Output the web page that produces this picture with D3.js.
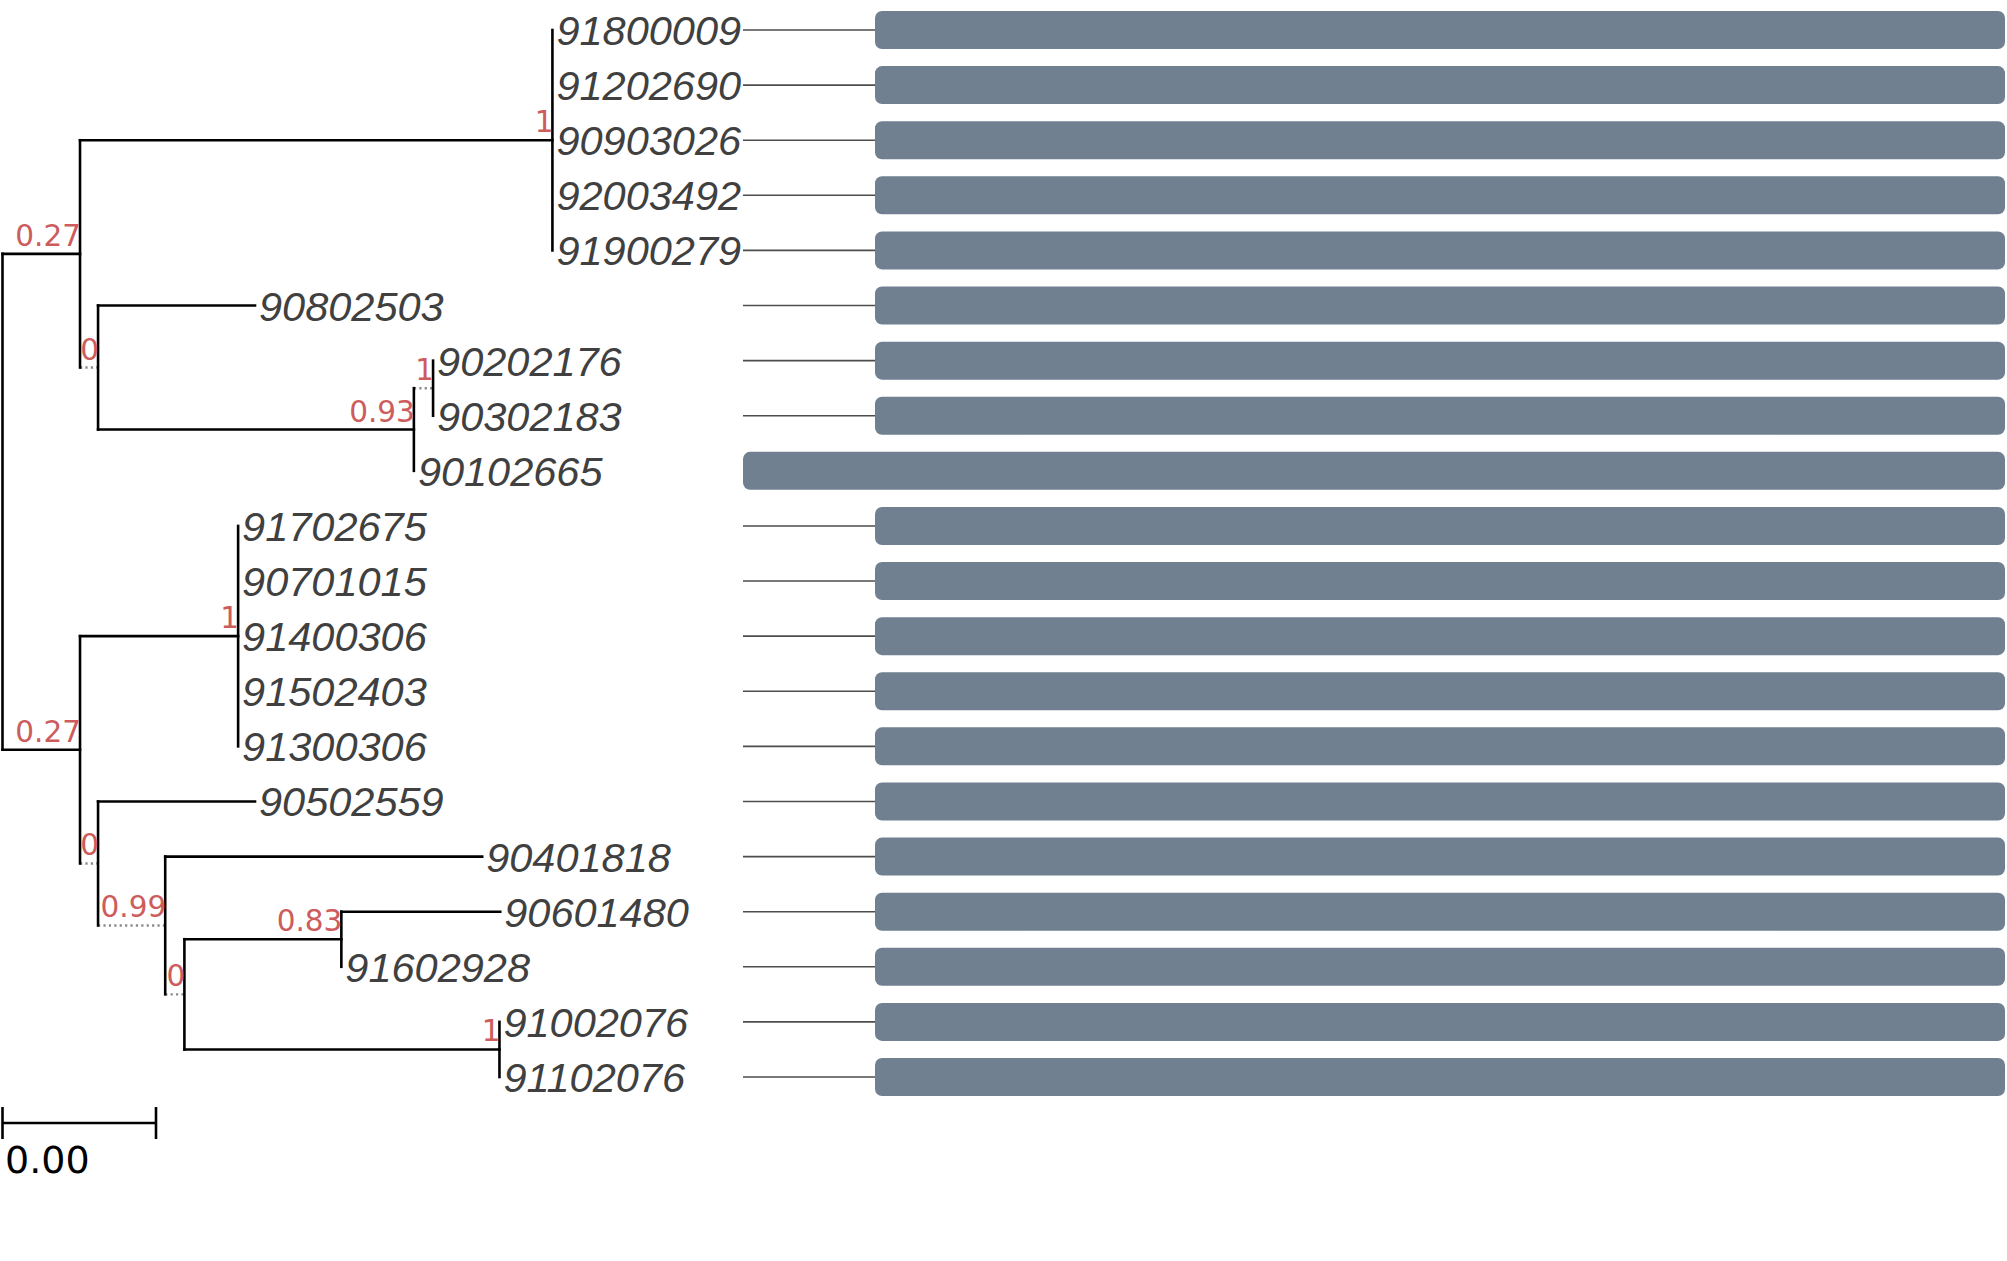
<!DOCTYPE html>
<html>
<head>
<meta charset="utf-8">
<script src="https://cdn.jsdelivr.net/npm/d3@7"></script>
<style>
  html, body { margin: 0; padding: 0; background: #fff; }
  svg { display: block; }
</style>
</head>
<body>
<svg id="chart" width="2007" height="1261"></svg>
<script>
// ---- Tree data ----
const nodeIds = ["root","A","C1","91800009","91202690","90903026","92003492","91900279",
  "B","90802503","C","D","90202176","90302183","90102665",
  "A2","E","91702675","90701015","91400306","91502403","91300306",
  "B2","90502559","F","90401818","G","H","90601480","91602928","I","91002076","91102076"];
const parentIds = ["","root","A","C1","C1","C1","C1","C1",
  "A","B","B","C","D","D","C",
  "root","A2","E","E","E","E","E",
  "A2","B2","B2","F","F","G","H","H","G","I","I"];
const branchLengths = [0,0.00202,0.01231,0,0,0,0,0,
  0.00047,0.00409,0.00823,0.00050,0,0,0,
  0.00202,0.00412,0,0,0,0,0,
  0.00047,0.00409,0.00175,0.00826,0.00050,0.00409,0.00414,0,0.00821,0,0];
const supportLabels = ["","0.27","1","","","","","",
  "0","","0.93","1","","","",
  "0.27","1","","","","","",
  "0","","0.99","","0","0.83","","","1","",""];
const dottedBranch = [0,0,0,0,0,0,0,0,
  1,0,0,1,0,0,0,
  0,0,0,0,0,0,0,
  1,0,1,0,1,0,0,0,0,0,0];

// leaf order top to bottom
const leafOrder = ["91800009","91202690","90903026","92003492","91900279","90802503",
  "90202176","90302183","90102665","91702675","90701015","91400306","91502403","91300306",
  "90502559","90401818","90601480","91602928","91002076","91102076"];

// ---- Track (bar) data ----
const barStart = [132,132,132,132,132,132,132,132,0,132,132,132,132,132,132,132,132,132,132,132];
const barEnd   = [1262,1262,1262,1262,1262,1262,1262,1262,1262,1262,1262,1262,1262,1262,1262,1262,1262,1262,1262,1262];
const trackDomain = [0, 1262];

// scale bar
const scaleBarValue = 0.004;

// ---- Build ----
const svg = d3.select("#chart");
const table = nodeIds.map((id,i)=>({id, parent: parentIds[i]||null, len: branchLengths[i],
  support: supportLabels[i], dotted: dottedBranch[i]}));
const root = d3.stratify().id(d=>d.id).parentId(d=>d.parent)(table);

root.each(n=>{ n.dist = n.parent ? n.parent.dist + n.data.len : 0; });
const leafIndex = new Map(leafOrder.map((d,i)=>[d,i]));
function minLeaf(n){ return n.children ? d3.min(n.children, minLeaf) : leafIndex.get(n.id); }
root.sort((a,b)=>minLeaf(a)-minLeaf(b));

const x = d3.scaleLinear().domain([0, 0.004]).range([2.5, 156]);
const y = d3.scaleLinear().domain([0, leafOrder.length-1]).range([30, 1077]);
const tx = d3.scaleLinear().domain(trackDomain).range([743, 2005]);

root.eachAfter(n=>{
  if (!n.children) n.yy = y(leafIndex.get(n.id));
  else n.yy = d3.mean(n.children, c=>c.yy);
});

const g = svg.append("g");

// tracks
const rows = leafOrder.map((name,i)=>({name, i, s: barStart[i], e: barEnd[i]}));
g.selectAll("line.lead").data(rows).join("line")
  .attr("x1", tx(trackDomain[0])).attr("x2", d=>tx(d.s))
  .attr("y1", d=>y(d.i)).attr("y2", d=>y(d.i))
  .attr("stroke", "#4d4d4d").attr("stroke-width", 1.6);
g.selectAll("rect.bar").data(rows).join("rect")
  .attr("x", d=>tx(d.s)).attr("width", d=>tx(d.e)-tx(d.s))
  .attr("y", d=>y(d.i)-19).attr("height", 38)
  .attr("rx", 7).attr("ry", 7)
  .attr("fill", "#708090");

// horizontal branches
const nonRoot = root.descendants().filter(n=>n.parent && n.data.len>0);
g.selectAll("line.hb").data(nonRoot).join("line")
  .attr("x1", n=>x(n.parent.dist)).attr("x2", n=>x(n.dist))
  .attr("y1", n=>n.yy).attr("y2", n=>n.yy)
  .attr("stroke", n=>n.data.dotted ? "#8a8a8a" : "#000")
  .attr("stroke-width", n=>n.data.dotted ? 2.4 : 2.6)
  .attr("stroke-dasharray", n=>n.data.dotted ? "2.2,3.2" : null)
  .attr("stroke-linecap", n=>n.data.dotted ? "butt" : "square");

// vertical branches
const internal = root.descendants().filter(n=>n.children);
g.selectAll("line.vb").data(internal).join("line")
  .attr("x1", n=>x(n.dist)).attr("x2", n=>x(n.dist))
  .attr("y1", n=>d3.min(n.children,c=>c.yy)).attr("y2", n=>d3.max(n.children,c=>c.yy))
  .attr("stroke", "#000").attr("stroke-width", 2.6).attr("stroke-linecap", "square");

// tip labels
const leaves = root.leaves();
g.selectAll("text.tip").data(leaves).join("text")
  .attr("x", n=>x(n.dist)+4).attr("y", n=>n.yy+15)
  .attr("font-family", "'Liberation Sans', Arial, sans-serif")
  .attr("font-style", "italic").attr("font-size", 41.5)
  .attr("fill", "#404040")
  .text(n=>n.id);

// support labels
g.selectAll("text.sup").data(internal.filter(n=>n.data.support!=="")).join("text")
  .attr("x", n=>x(n.dist)+1).attr("y", n=>n.yy-8)
  .attr("text-anchor", "end")
  .attr("font-family", "'DejaVu Sans', sans-serif")
  .attr("font-size", 29.5)
  .attr("fill", "#cd5c5c")
  .text(n=>n.data.support);

// scale bar
const sbY = 1123;
const sb = g.append("g");
sb.append("line").attr("x1", x(0)).attr("x2", x(scaleBarValue)).attr("y1", sbY).attr("y2", sbY)
  .attr("stroke", "#000").attr("stroke-width", 2.6);
[0, scaleBarValue].forEach(v=>{
  sb.append("line").attr("x1", x(v)).attr("x2", x(v)).attr("y1", sbY-16).attr("y2", sbY+16)
    .attr("stroke", "#000").attr("stroke-width", 2.6);
});
sb.append("text").attr("x", 5).attr("y", 1173)
  .attr("font-family", "'DejaVu Sans', sans-serif").attr("font-size", 38)
  .attr("fill", "#000")
  .text(d3.format(".2f")(scaleBarValue));
</script>
</body>
</html>
